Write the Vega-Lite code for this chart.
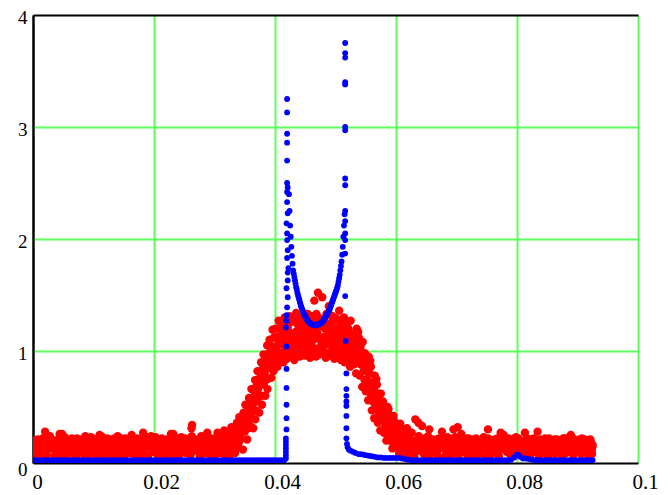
{
"$schema": "https://vega.github.io/schema/vega-lite/v6.json",
"width": 605, "height": 448,
"autosize": {"type": "none"},
"padding": {"left": 33, "top": 15, "right": 32, "bottom": 32},
"background": "#ffffff",
"config": {"font": "Liberation Serif, Times New Roman, serif", "view": {"stroke": null}, "axis": {"ticks": false, "domain": false, "labelFont": "Liberation Serif, Times New Roman, serif", "labelColor": "#000000", "title": null, "gridOpacity": 1}},
"resolve": {"axis": {"x": "independent", "y": "independent"}},
"datasets": {
"red": [
{"x":0,"y":0.08},{"x":0.0002,"y":0.20},{"x":0.0005,"y":0.13},{"x":0.0008,"y":0.06},
{"x":0.0011,"y":0.16},{"x":0.0013,"y":0.05},{"x":0.0016,"y":0.22},{"x":0.0019,"y":0.11},
{"x":0.0020,"y":0.10},{"x":0.0023,"y":0.07},{"x":0.0025,"y":0.17},{"x":0.0028,"y":0.24},
{"x":0.0031,"y":0.21},{"x":0.0034,"y":0.12},{"x":0.0036,"y":0.06},{"x":0.0039,"y":0.15},
{"x":0.0042,"y":0.09},{"x":0.0044,"y":0.26},{"x":0.0047,"y":0.14},{"x":0.0049,"y":0.05},
{"x":0.0050,"y":0.18},{"x":0.0053,"y":0.11},{"x":0.0056,"y":0.07},{"x":0.0058,"y":0.20},
{"x":0.0061,"y":0.13},{"x":0.0064,"y":0.22},{"x":0.0066,"y":0.09},{"x":0.0069,"y":0.06},
{"x":0.0071,"y":0.05},{"x":0.0073,"y":0.17},{"x":0.0076,"y":0.12},{"x":0.0078,"y":0.21},
{"x":0.0080,"y":0.15},{"x":0.0083,"y":0.08},{"x":0.0085,"y":0.19},{"x":0.0088,"y":0.11},
{"x":0.0091,"y":0.07},{"x":0.0093,"y":0.14},{"x":0.0096,"y":0.23},{"x":0.0099,"y":0.10},
{"x":0.0101,"y":0.20},{"x":0.0104,"y":0.06},{"x":0.0106,"y":0.12},{"x":0.0108,"y":0.16},
{"x":0.0110,"y":0.09},{"x":0.0113,"y":0.24},{"x":0.0115,"y":0.14},{"x":0.0118,"y":0.05},
{"x":0.0121,"y":0.17},{"x":0.0123,"y":0.10},{"x":0.0126,"y":0.06},{"x":0.0129,"y":0.21},
{"x":0.0130,"y":0.12},{"x":0.0133,"y":0.19},{"x":0.0135,"y":0.08},{"x":0.0138,"y":0.15},
{"x":0.0141,"y":0.05},{"x":0.0144,"y":0.13},{"x":0.0146,"y":0.22},{"x":0.0148,"y":0.10},
{"x":0.0150,"y":0.16},{"x":0.0152,"y":0.07},{"x":0.0155,"y":0.20},{"x":0.0158,"y":0.12},
{"x":0.0161,"y":0.09},{"x":0.0163,"y":0.25},{"x":0.0166,"y":0.14},{"x":0.0169,"y":0.06},
{"x":0.0170,"y":0.18},{"x":0.0173,"y":0.11},{"x":0.0175,"y":0.05},{"x":0.0178,"y":0.21},
{"x":0.0181,"y":0.13},{"x":0.0184,"y":0.08},{"x":0.0186,"y":0.17},{"x":0.0189,"y":0.23},
{"x":0.0190,"y":0.06},{"x":0.0192,"y":0.15},{"x":0.0195,"y":0.24},{"x":0.0198,"y":0.10},
{"x":0.0201,"y":0.19},{"x":0.0204,"y":0.12},{"x":0.0206,"y":0.07},{"x":0.0208,"y":0.16},
{"x":0.0210,"y":0.09},{"x":0.0213,"y":0.22},{"x":0.0216,"y":0.14},{"x":0.0219,"y":0.05},
{"x":0.0221,"y":0.17},{"x":0.0223,"y":0.11},{"x":0.0226,"y":0.06},{"x":0.0228,"y":0.26},
{"x":0.0231,"y":0.13},{"x":0.0234,"y":0.20},{"x":0.0236,"y":0.08},{"x":0.0239,"y":0.15},
{"x":0.0240,"y":0.05},{"x":0.0243,"y":0.16},{"x":0.0245,"y":0.23},{"x":0.0248,"y":0.11},
{"x":0.0251,"y":0.18},{"x":0.0253,"y":0.09},{"x":0.0256,"y":0.13},{"x":0.0259,"y":0.21},
{"x":0.0260,"y":0.07},{"x":0.0262,"y":0.31},{"x":0.0265,"y":0.15},{"x":0.0268,"y":0.11},
{"x":0.0271,"y":0.19},{"x":0.0273,"y":0.12},{"x":0.0276,"y":0.06},{"x":0.0278,"y":0.24},
{"x":0.0280,"y":0.14},{"x":0.0283,"y":0.09},{"x":0.0285,"y":0.20},{"x":0.0288,"y":0.27},
{"x":0.0291,"y":0.08},{"x":0.0293,"y":0.16},{"x":0.0296,"y":0.22},{"x":0.0298,"y":0.13},
{"x":0.0020,"y":0.28},{"x":0.0048,"y":0.26},{"x":0.0263,"y":0.34},{"x":0.0232,"y":0.26},{"x":0.0182,"y":0.27},{"x":0.0110,"y":0.25},{"x":0.0140,"y":0.24},
{"x":0.00045,"y":0.12},{"x":0.00095,"y":0.17},{"x":0.00145,"y":0.09},{"x":0.00195,"y":0.19},{"x":0.00245,"y":0.13},{"x":0.00295,"y":0.15},
{"x":0.00345,"y":0.18},{"x":0.00395,"y":0.09},{"x":0.00445,"y":0.11},{"x":0.00495,"y":0.16},{"x":0.00545,"y":0.14},{"x":0.00595,"y":0.10},
{"x":0.00645,"y":0.16},{"x":0.00695,"y":0.13},{"x":0.00745,"y":0.09},{"x":0.00795,"y":0.18},{"x":0.00845,"y":0.13},{"x":0.00895,"y":0.21},
{"x":0.00945,"y":0.17},{"x":0.00995,"y":0.12},{"x":0.01045,"y":0.11},{"x":0.01095,"y":0.19},{"x":0.01145,"y":0.18},{"x":0.01195,"y":0.10},
{"x":0.01245,"y":0.14},{"x":0.01295,"y":0.16},{"x":0.01345,"y":0.22},{"x":0.01395,"y":0.09},{"x":0.01445,"y":0.17},{"x":0.01495,"y":0.13},
{"x":0.01545,"y":0.10},{"x":0.01595,"y":0.18},{"x":0.01645,"y":0.19},{"x":0.01695,"y":0.11},{"x":0.01745,"y":0.14},{"x":0.01795,"y":0.16},
{"x":0.01845,"y":0.11},{"x":0.01895,"y":0.15},{"x":0.01945,"y":0.18},{"x":0.01995,"y":0.12},{"x":0.02045,"y":0.15},{"x":0.02095,"y":0.21},
{"x":0.02145,"y":0.10},{"x":0.02195,"y":0.17},{"x":0.02245,"y":0.19},{"x":0.02295,"y":0.13},{"x":0.02345,"y":0.12},{"x":0.02395,"y":0.18},
{"x":0.02445,"y":0.09},{"x":0.02495,"y":0.16},{"x":0.02545,"y":0.17},{"x":0.02595,"y":0.11},{"x":0.02645,"y":0.21},{"x":0.02695,"y":0.14},
{"x":0.02745,"y":0.16},{"x":0.02795,"y":0.10},{"x":0.02845,"y":0.12},{"x":0.02895,"y":0.18},{"x":0.02945,"y":0.18},{"x":0.02995,"y":0.11},
{"x":0.00025,"y":0.15},{"x":0.00075,"y":0.21},{"x":0.00125,"y":0.20},{"x":0.00175,"y":0.14},{"x":0.00215,"y":0.12},{"x":0.00265,"y":0.22},
{"x":0.00325,"y":0.16},{"x":0.00375,"y":0.20},{"x":0.00415,"y":0.21},{"x":0.00465,"y":0.19},{"x":0.00525,"y":0.23},{"x":0.00575,"y":0.15},
{"x":0.00625,"y":0.18},{"x":0.00675,"y":0.20},{"x":0.00725,"y":0.22},{"x":0.00775,"y":0.14},{"x":0.00815,"y":0.18},{"x":0.00865,"y":0.24},
{"x":0.00925,"y":0.19},{"x":0.00975,"y":0.16},{"x":0.01025,"y":0.15},{"x":0.01075,"y":0.22},{"x":0.01125,"y":0.20},{"x":0.01175,"y":0.17},
{"x":0.01225,"y":0.22},{"x":0.01275,"y":0.13},{"x":0.01315,"y":0.16},{"x":0.01365,"y":0.20},{"x":0.01425,"y":0.19},{"x":0.01475,"y":0.21},
{"x":0.01525,"y":0.22},{"x":0.01575,"y":0.15},{"x":0.01615,"y":0.17},{"x":0.01665,"y":0.20},{"x":0.01725,"y":0.22},{"x":0.01775,"y":0.15},
{"x":0.01825,"y":0.19},{"x":0.01875,"y":0.21},{"x":0.01915,"y":0.20},{"x":0.01965,"y":0.14},{"x":0.02025,"y":0.23},{"x":0.02075,"y":0.18},
{"x":0.02125,"y":0.16},{"x":0.02175,"y":0.20},{"x":0.02215,"y":0.21},{"x":0.02265,"y":0.18},{"x":0.02325,"y":0.17},{"x":0.02375,"y":0.22},
{"x":0.02425,"y":0.20},{"x":0.02475,"y":0.19},{"x":0.02515,"y":0.22},{"x":0.02565,"y":0.16},{"x":0.02625,"y":0.24},{"x":0.02675,"y":0.19},
{"x":0.02725,"y":0.21},{"x":0.02775,"y":0.17},{"x":0.02815,"y":0.18},{"x":0.02865,"y":0.23},{"x":0.02925,"y":0.21},{"x":0.02975,"y":0.19},
{"x":0.0301,"y":0.07},{"x":0.0303,"y":0.18},{"x":0.0305,"y":0.27},{"x":0.0307,"y":0.12},{"x":0.0309,"y":0.22},
{"x":0.0310,"y":0.09},{"x":0.0312,"y":0.20},{"x":0.0314,"y":0.15},{"x":0.0316,"y":0.29},{"x":0.0318,"y":0.06},{"x":0.0319,"y":0.24},
{"x":0.0321,"y":0.11},{"x":0.0322,"y":0.26},{"x":0.0324,"y":0.18},{"x":0.0326,"y":0.07},{"x":0.0328,"y":0.32},{"x":0.0329,"y":0.22},
{"x":0.0330,"y":0.14},{"x":0.0332,"y":0.30},{"x":0.0334,"y":0.09},{"x":0.0335,"y":0.22},{"x":0.0337,"y":0.36},{"x":0.0339,"y":0.27},
{"x":0.0340,"y":0.18},{"x":0.0341,"y":0.41},{"x":0.0343,"y":0.25},{"x":0.0345,"y":0.33},{"x":0.0347,"y":0.12},{"x":0.0348,"y":0.45},{"x":0.0349,"y":0.29},
{"x":0.0350,"y":0.28},{"x":0.0351,"y":0.52},{"x":0.0353,"y":0.36},{"x":0.0354,"y":0.21},{"x":0.0356,"y":0.44},{"x":0.0357,"y":0.58},{"x":0.0359,"y":0.33},
{"x":0.0360,"y":0.40},{"x":0.0361,"y":0.66},{"x":0.0363,"y":0.52},{"x":0.0364,"y":0.31},{"x":0.0366,"y":0.60},{"x":0.0367,"y":0.74},{"x":0.0369,"y":0.47},
{"x":0.0370,"y":0.55},{"x":0.0371,"y":0.82},{"x":0.0372,"y":0.66},{"x":0.0374,"y":0.45},{"x":0.0375,"y":0.76},{"x":0.0377,"y":0.90},{"x":0.0378,"y":0.60},{"x":0.0379,"y":0.71},
{"x":0.0380,"y":0.70},{"x":0.0381,"y":0.97},{"x":0.0383,"y":0.80},{"x":0.0384,"y":0.60},{"x":0.0385,"y":0.91},{"x":0.0387,"y":1.05},{"x":0.0388,"y":0.75},{"x":0.0389,"y":0.86},
{"x":0.0390,"y":0.85},{"x":0.0391,"y":1.10},{"x":0.0392,"y":0.95},{"x":0.0394,"y":0.76},{"x":0.0395,"y":1.04},{"x":0.0396,"y":1.19},{"x":0.0398,"y":0.90},{"x":0.0399,"y":1.00},
{"x":0.0400,"y":0.92},{"x":0.0401,"y":1.20},{"x":0.0402,"y":1.03},{"x":0.0404,"y":0.86},{"x":0.0405,"y":1.13},{"x":0.0406,"y":1.27},{"x":0.0408,"y":0.98},{"x":0.0409,"y":1.09},
{"x":0.0410,"y":0.96},{"x":0.0411,"y":1.24},{"x":0.0412,"y":1.06},{"x":0.0414,"y":0.90},{"x":0.0415,"y":1.17},{"x":0.0416,"y":1.30},{"x":0.0418,"y":1.01},{"x":0.0419,"y":1.12},
{"x":0.0420,"y":0.93},{"x":0.0421,"y":1.21},{"x":0.0422,"y":1.05},{"x":0.0424,"y":1.31},{"x":0.0425,"y":0.99},{"x":0.0426,"y":1.15},{"x":0.0428,"y":1.26},{"x":0.0429,"y":1.09},
{"x":0.0430,"y":1.02},{"x":0.0431,"y":1.28},{"x":0.0432,"y":0.92},{"x":0.0434,"y":1.17},{"x":0.0435,"y":1.34},{"x":0.0436,"y":1.08},{"x":0.0438,"y":0.97},{"x":0.0439,"y":1.22},
{"x":0.0440,"y":1.12},{"x":0.0441,"y":0.95},{"x":0.0442,"y":1.30},{"x":0.0444,"y":1.04},{"x":0.0445,"y":1.20},{"x":0.0446,"y":0.99},{"x":0.0448,"y":1.27},{"x":0.0449,"y":1.14},
{"x":0.0450,"y":0.96},{"x":0.0451,"y":1.24},{"x":0.0452,"y":1.10},{"x":0.0454,"y":1.33},{"x":0.0455,"y":1.01},{"x":0.0456,"y":1.18},{"x":0.0458,"y":0.94},{"x":0.0459,"y":1.28},
{"x":0.0460,"y":1.07},{"x":0.0461,"y":1.31},{"x":0.0462,"y":0.98},{"x":0.0464,"y":1.21},{"x":0.0465,"y":1.45},{"x":0.0466,"y":1.11},{"x":0.0468,"y":0.95},{"x":0.0469,"y":1.26},
{"x":0.0470,"y":1.16},{"x":0.0471,"y":1.52},{"x":0.0472,"y":1.02},{"x":0.0474,"y":1.29},{"x":0.0475,"y":0.97},{"x":0.0476,"y":1.22},{"x":0.0478,"y":1.48},{"x":0.0479,"y":1.09},
{"x":0.0480,"y":1.00},{"x":0.0481,"y":1.27},{"x":0.0482,"y":1.13},{"x":0.0484,"y":0.94},{"x":0.0485,"y":1.33},{"x":0.0486,"y":1.06},{"x":0.0488,"y":1.19},{"x":0.0489,"y":1.40},
{"x":0.0490,"y":1.10},{"x":0.0491,"y":0.96},{"x":0.0492,"y":1.25},{"x":0.0494,"y":1.04},{"x":0.0495,"y":1.31},{"x":0.0496,"y":1.15},{"x":0.0498,"y":0.93},{"x":0.0499,"y":1.21},
{"x":0.0500,"y":1.07},{"x":0.0501,"y":1.29},{"x":0.0502,"y":0.95},{"x":0.0504,"y":1.18},{"x":0.0505,"y":1.01},{"x":0.0506,"y":1.36},{"x":0.0508,"y":1.12},{"x":0.0509,"y":0.92},
{"x":0.0510,"y":1.22},{"x":0.0511,"y":0.97},{"x":0.0512,"y":1.08},{"x":0.0514,"y":1.30},{"x":0.0515,"y":0.90},{"x":0.0516,"y":1.16},{"x":0.0518,"y":1.02},{"x":0.0519,"y":1.25},
{"x":0.0520,"y":0.93},{"x":0.0521,"y":1.19},{"x":0.0522,"y":1.05},{"x":0.0524,"y":0.86},{"x":0.0525,"y":1.27},{"x":0.0526,"y":1.12},{"x":0.0528,"y":0.98},{"x":0.0529,"y":1.10},
{"x":0.0530,"y":0.88},{"x":0.0531,"y":1.14},{"x":0.0532,"y":0.99},{"x":0.0534,"y":0.80},{"x":0.0535,"y":1.20},{"x":0.0536,"y":1.05},{"x":0.0538,"y":0.91},{"x":0.0539,"y":1.00},
{"x":0.0540,"y":0.78},{"x":0.0541,"y":1.02},{"x":0.0542,"y":0.88},{"x":0.0544,"y":0.68},{"x":0.0545,"y":1.08},{"x":0.0546,"y":0.93},{"x":0.0548,"y":0.74},{"x":0.0549,"y":0.84},
{"x":0.0550,"y":0.64},{"x":0.0551,"y":0.90},{"x":0.0552,"y":0.75},{"x":0.0554,"y":0.56},{"x":0.0555,"y":0.95},{"x":0.0556,"y":0.80},{"x":0.0558,"y":0.62},{"x":0.0559,"y":0.70},
{"x":0.0560,"y":0.47},{"x":0.0561,"y":0.72},{"x":0.0562,"y":0.58},{"x":0.0564,"y":0.40},{"x":0.0565,"y":0.78},{"x":0.0566,"y":0.63},{"x":0.0568,"y":0.49},{"x":0.0569,"y":0.55},
{"x":0.0570,"y":0.36},{"x":0.0571,"y":0.58},{"x":0.0572,"y":0.45},{"x":0.0574,"y":0.29},{"x":0.0575,"y":0.62},{"x":0.0576,"y":0.50},{"x":0.0578,"y":0.38},{"x":0.0579,"y":0.43},
{"x":0.0580,"y":0.27},{"x":0.0581,"y":0.46},{"x":0.0583,"y":0.34},{"x":0.0584,"y":0.20},{"x":0.0586,"y":0.50},{"x":0.0587,"y":0.39},{"x":0.0589,"y":0.30},
{"x":0.0590,"y":0.20},{"x":0.0591,"y":0.38},{"x":0.0593,"y":0.26},{"x":0.0594,"y":0.13},{"x":0.0596,"y":0.42},{"x":0.0597,"y":0.31},{"x":0.0599,"y":0.22},
{"x":0.0600,"y":0.15},{"x":0.0602,"y":0.30},{"x":0.0604,"y":0.21},{"x":0.0605,"y":0.08},{"x":0.0607,"y":0.35},{"x":0.0609,"y":0.17},
{"x":0.0610,"y":0.11},{"x":0.0612,"y":0.26},{"x":0.0614,"y":0.19},{"x":0.0616,"y":0.06},{"x":0.0618,"y":0.31},{"x":0.0619,"y":0.14},
{"x":0.03045,"y":0.14},{"x":0.03085,"y":0.10},{"x":0.03025,"y":0.21},{"x":0.03135,"y":0.12},{"x":0.03175,"y":0.19},{"x":0.03115,"y":0.25},
{"x":0.03235,"y":0.14},{"x":0.03275,"y":0.24},{"x":0.03205,"y":0.18},{"x":0.03315,"y":0.19},{"x":0.03365,"y":0.26},{"x":0.03385,"y":0.14},
{"x":0.03425,"y":0.21},{"x":0.03465,"y":0.38},{"x":0.03495,"y":0.32},{"x":0.03525,"y":0.41},{"x":0.03555,"y":0.31},{"x":0.03585,"y":0.47},
{"x":0.03625,"y":0.45},{"x":0.03655,"y":0.56},{"x":0.03685,"y":0.68},{"x":0.03735,"y":0.59},{"x":0.03765,"y":0.70},{"x":0.03795,"y":0.84},
{"x":0.03825,"y":0.72},{"x":0.03855,"y":0.85},{"x":0.03895,"y":0.98},{"x":0.03925,"y":0.88},{"x":0.03955,"y":0.97},{"x":0.03985,"y":1.12},
{"x":0.04025,"y":0.97},{"x":0.04055,"y":1.06},{"x":0.04085,"y":1.20},{"x":0.04125,"y":0.99},{"x":0.04155,"y":1.09},{"x":0.04185,"y":1.24},
{"x":0.04225,"y":0.97},{"x":0.04265,"y":1.12},{"x":0.04285,"y":1.02},{"x":0.04325,"y":1.10},{"x":0.04365,"y":1.25},{"x":0.04385,"y":1.01},
{"x":0.04425,"y":1.17},{"x":0.04465,"y":1.08},{"x":0.04485,"y":0.97},{"x":0.04525,"y":1.05},{"x":0.04565,"y":1.21},{"x":0.04585,"y":1.14},
{"x":0.04625,"y":1.17},{"x":0.04665,"y":1.02},{"x":0.04685,"y":1.33},{"x":0.04725,"y":1.11},{"x":0.04765,"y":1.05},{"x":0.04785,"y":1.25},
{"x":0.04825,"y":1.20},{"x":0.04865,"y":1.10},{"x":0.04885,"y":0.98},{"x":0.04925,"y":1.17},{"x":0.04965,"y":1.02},{"x":0.04985,"y":1.28},
{"x":0.05025,"y":1.14},{"x":0.05065,"y":1.02},{"x":0.05085,"y":1.25},{"x":0.05125,"y":0.95},{"x":0.05165,"y":1.10},{"x":0.05185,"y":1.18},
{"x":0.05225,"y":0.97},{"x":0.05265,"y":1.15},{"x":0.05285,"y":1.04},{"x":0.05325,"y":1.08},{"x":0.05365,"y":0.93},{"x":0.05385,"y":1.12},
{"x":0.05425,"y":0.95},{"x":0.05465,"y":0.82},{"x":0.05485,"y":0.98},{"x":0.05525,"y":0.83},{"x":0.05565,"y":0.70},{"x":0.05585,"y":0.86},
{"x":0.05625,"y":0.66},{"x":0.05655,"y":0.52},{"x":0.05685,"y":0.70},{"x":0.05725,"y":0.52},{"x":0.05765,"y":0.40},{"x":0.05785,"y":0.55},
{"x":0.05825,"y":0.41},{"x":0.05855,"y":0.25},{"x":0.05885,"y":0.43},{"x":0.05925,"y":0.33},{"x":0.05955,"y":0.18},{"x":0.05985,"y":0.36},
{"x":0.06025,"y":0.25},{"x":0.06065,"y":0.12},{"x":0.06085,"y":0.28},{"x":0.06125,"y":0.22},{"x":0.06155,"y":0.09},{"x":0.06185,"y":0.20},
{"x":0.03035,"y":0.16},{"x":0.03075,"y":0.24},{"x":0.03125,"y":0.17},{"x":0.03165,"y":0.27},{"x":0.03215,"y":0.23},{"x":0.03265,"y":0.13},
{"x":0.03345,"y":0.20},{"x":0.03375,"y":0.31},{"x":0.03415,"y":0.28},{"x":0.03455,"y":0.36},{"x":0.03515,"y":0.35},{"x":0.03575,"y":0.52},
{"x":0.03615,"y":0.58},{"x":0.03675,"y":0.39},{"x":0.03725,"y":0.73},{"x":0.03785,"y":0.52},{"x":0.03815,"y":0.88},{"x":0.03875,"y":0.66},
{"x":0.03915,"y":1.05},{"x":0.03975,"y":0.82},{"x":0.04015,"y":1.12},{"x":0.04075,"y":0.90},{"x":0.04115,"y":1.15},{"x":0.04175,"y":0.94},
{"x":0.04215,"y":1.18},{"x":0.04275,"y":0.96},{"x":0.04315,"y":0.99},{"x":0.04355,"y":1.16},{"x":0.04415,"y":1.24},{"x":0.04475,"y":1.06},
{"x":0.04515,"y":1.15},{"x":0.04575,"y":0.99},{"x":0.04615,"y":0.97},{"x":0.04675,"y":1.19},{"x":0.04715,"y":1.24},{"x":0.04775,"y":1.00},
{"x":0.04815,"y":1.08},{"x":0.04875,"y":1.24},{"x":0.04915,"y":1.32},{"x":0.04975,"y":1.08},{"x":0.05015,"y":0.98},{"x":0.05075,"y":1.19},
{"x":0.05115,"y":1.26},{"x":0.05175,"y":1.04},{"x":0.05215,"y":1.20},{"x":0.05275,"y":0.92},{"x":0.05315,"y":0.94},{"x":0.05375,"y":1.17},
{"x":0.05415,"y":1.05},{"x":0.05475,"y":0.88},{"x":0.05515,"y":0.70},{"x":0.05575,"y":0.91},{"x":0.05615,"y":0.55},{"x":0.05675,"y":0.75},
{"x":0.05715,"y":0.62},{"x":0.05775,"y":0.46},{"x":0.05815,"y":0.31},{"x":0.05875,"y":0.48},{"x":0.05915,"y":0.25},{"x":0.05975,"y":0.37},
{"x":0.06015,"y":0.19},{"x":0.06075,"y":0.31},{"x":0.06115,"y":0.15},{"x":0.06175,"y":0.25},
{"x":0.0621,"y":0.18},{"x":0.0623,"y":0.09},{"x":0.0626,"y":0.27},{"x":0.0628,"y":0.13},
{"x":0.0630,"y":0.06},{"x":0.0632,"y":0.39},{"x":0.0635,"y":0.16},{"x":0.0638,"y":0.22},
{"x":0.0641,"y":0.11},{"x":0.0643,"y":0.33},{"x":0.0646,"y":0.08},{"x":0.0648,"y":0.19},
{"x":0.0650,"y":0.14},{"x":0.0653,"y":0.24},{"x":0.0655,"y":0.06},{"x":0.0658,"y":0.17},
{"x":0.0661,"y":0.21},{"x":0.0663,"y":0.10},{"x":0.0666,"y":0.15},{"x":0.0668,"y":0.07},
{"x":0.0670,"y":0.12},{"x":0.0673,"y":0.19},{"x":0.0676,"y":0.28},{"x":0.0678,"y":0.05},
{"x":0.0681,"y":0.16},{"x":0.0683,"y":0.09},{"x":0.0685,"y":0.23},{"x":0.0688,"y":0.13},
{"x":0.0690,"y":0.07},{"x":0.0693,"y":0.21},{"x":0.0695,"y":0.30},{"x":0.0698,"y":0.11},
{"x":0.0701,"y":0.15},{"x":0.0703,"y":0.06},{"x":0.0706,"y":0.19},{"x":0.0708,"y":0.26},
{"x":0.0711,"y":0.10},{"x":0.0713,"y":0.17},{"x":0.0716,"y":0.13},{"x":0.0718,"y":0.05},
{"x":0.0720,"y":0.22},{"x":0.0723,"y":0.08},{"x":0.0725,"y":0.14},{"x":0.0728,"y":0.18},
{"x":0.0731,"y":0.12},{"x":0.0733,"y":0.06},{"x":0.0736,"y":0.20},{"x":0.0738,"y":0.16},
{"x":0.0740,"y":0.09},{"x":0.0743,"y":0.15},{"x":0.0745,"y":0.23},{"x":0.0748,"y":0.05},
{"x":0.0751,"y":0.18},{"x":0.0753,"y":0.11},{"x":0.0756,"y":0.07},{"x":0.0758,"y":0.20},
{"x":0.0761,"y":0.14},{"x":0.0763,"y":0.21},{"x":0.0766,"y":0.09},{"x":0.0768,"y":0.16},
{"x":0.0770,"y":0.06},{"x":0.0773,"y":0.13},{"x":0.0775,"y":0.19},{"x":0.0778,"y":0.25},
{"x":0.0781,"y":0.17},{"x":0.0783,"y":0.10},{"x":0.0786,"y":0.22},{"x":0.0788,"y":0.08},
{"x":0.0790,"y":0.12},{"x":0.0793,"y":0.18},{"x":0.0795,"y":0.06},{"x":0.0798,"y":0.23},
{"x":0.0801,"y":0.15},{"x":0.0803,"y":0.09},{"x":0.0806,"y":0.20},{"x":0.0808,"y":0.13},
{"x":0.0811,"y":0.07},{"x":0.0813,"y":0.27},{"x":0.0815,"y":0.16},{"x":0.0818,"y":0.11},
{"x":0.0820,"y":0.19},{"x":0.0823,"y":0.08},{"x":0.0825,"y":0.14},{"x":0.0828,"y":0.22},
{"x":0.0831,"y":0.10},{"x":0.0833,"y":0.17},{"x":0.0836,"y":0.05},{"x":0.0838,"y":0.21},
{"x":0.0840,"y":0.13},{"x":0.0843,"y":0.20},{"x":0.0845,"y":0.09},{"x":0.0848,"y":0.16},
{"x":0.0851,"y":0.06},{"x":0.0853,"y":0.22},{"x":0.0856,"y":0.12},{"x":0.0858,"y":0.18},
{"x":0.0861,"y":0.15},{"x":0.0863,"y":0.08},{"x":0.0866,"y":0.21},{"x":0.0868,"y":0.11},
{"x":0.0870,"y":0.18},{"x":0.0873,"y":0.13},{"x":0.0875,"y":0.06},{"x":0.0878,"y":0.22},
{"x":0.0881,"y":0.09},{"x":0.0883,"y":0.16},{"x":0.0886,"y":0.23},{"x":0.0888,"y":0.12},
{"x":0.0890,"y":0.20},{"x":0.0893,"y":0.07},{"x":0.0895,"y":0.14},{"x":0.0898,"y":0.19},
{"x":0.0901,"y":0.11},{"x":0.0903,"y":0.21},{"x":0.0906,"y":0.08},{"x":0.0908,"y":0.15},
{"x":0.0910,"y":0.17},{"x":0.0913,"y":0.10},{"x":0.0915,"y":0.19},{"x":0.0918,"y":0.06},
{"x":0.0920,"y":0.13},{"x":0.0922,"y":0.18},{"x":0.0924,"y":0.08},{"x":0.0925,"y":0.16},
{"x":0.0702,"y":0.32},{"x":0.0752,"y":0.30},{"x":0.0834,"y":0.28},{"x":0.0773,"y":0.27},{"x":0.0889,"y":0.25},{"x":0.0655,"y":0.30},{"x":0.0637,"y":0.36},
{"x":0.06245,"y":0.15},{"x":0.06295,"y":0.20},{"x":0.06345,"y":0.11},{"x":0.06395,"y":0.14},{"x":0.06445,"y":0.21},{"x":0.06495,"y":0.13},
{"x":0.06545,"y":0.10},{"x":0.06595,"y":0.19},{"x":0.06645,"y":0.17},{"x":0.06695,"y":0.12},{"x":0.06745,"y":0.14},{"x":0.06795,"y":0.22},
{"x":0.06845,"y":0.11},{"x":0.06895,"y":0.18},{"x":0.06945,"y":0.16},{"x":0.06995,"y":0.09},{"x":0.07045,"y":0.12},{"x":0.07095,"y":0.17},
{"x":0.07145,"y":0.20},{"x":0.07195,"y":0.14},{"x":0.07245,"y":0.11},{"x":0.07295,"y":0.15},{"x":0.07345,"y":0.17},{"x":0.07395,"y":0.10},
{"x":0.07445,"y":0.13},{"x":0.07495,"y":0.19},{"x":0.07545,"y":0.15},{"x":0.07595,"y":0.12},{"x":0.07645,"y":0.18},{"x":0.07695,"y":0.10},
{"x":0.07745,"y":0.15},{"x":0.07795,"y":0.12},{"x":0.07845,"y":0.13},{"x":0.07895,"y":0.19},{"x":0.07945,"y":0.16},{"x":0.07995,"y":0.10},
{"x":0.08045,"y":0.11},{"x":0.08095,"y":0.17},{"x":0.08145,"y":0.19},{"x":0.08195,"y":0.13},{"x":0.08245,"y":0.10},{"x":0.08295,"y":0.16},
{"x":0.08345,"y":0.14},{"x":0.08395,"y":0.12},{"x":0.08445,"y":0.17},{"x":0.08495,"y":0.10},{"x":0.08545,"y":0.15},{"x":0.08595,"y":0.11},
{"x":0.08645,"y":0.12},{"x":0.08695,"y":0.18},{"x":0.08745,"y":0.16},{"x":0.08795,"y":0.09},{"x":0.08845,"y":0.19},{"x":0.08895,"y":0.14},
{"x":0.08945,"y":0.11},{"x":0.08995,"y":0.16},{"x":0.09045,"y":0.14},{"x":0.09095,"y":0.18},{"x":0.09145,"y":0.13},{"x":0.09195,"y":0.15},
{"x":0.09235,"y":0.11},{"x":0.0921,"y":0.21},
{"x":0.06225,"y":0.21},{"x":0.06275,"y":0.16},{"x":0.06325,"y":0.19},{"x":0.06375,"y":0.24},{"x":0.06415,"y":0.16},{"x":0.06465,"y":0.22},
{"x":0.06525,"y":0.20},{"x":0.06575,"y":0.15},{"x":0.06625,"y":0.18},{"x":0.06675,"y":0.21},{"x":0.06715,"y":0.22},{"x":0.06765,"y":0.16},
{"x":0.06825,"y":0.20},{"x":0.06875,"y":0.19},{"x":0.06925,"y":0.15},{"x":0.06975,"y":0.23},{"x":0.07025,"y":0.21},{"x":0.07075,"y":0.19},
{"x":0.07115,"y":0.16},{"x":0.07165,"y":0.22},{"x":0.07225,"y":0.19},{"x":0.07275,"y":0.21},{"x":0.07325,"y":0.22},{"x":0.07375,"y":0.18},
{"x":0.07415,"y":0.19},{"x":0.07465,"y":0.17},{"x":0.07525,"y":0.22},{"x":0.07575,"y":0.16},{"x":0.07625,"y":0.20},{"x":0.07675,"y":0.22},
{"x":0.07715,"y":0.18},{"x":0.07765,"y":0.21},{"x":0.07825,"y":0.20},{"x":0.07875,"y":0.15},{"x":0.07925,"y":0.21},{"x":0.07975,"y":0.19},
{"x":0.08025,"y":0.22},{"x":0.08075,"y":0.18},{"x":0.08115,"y":0.15},{"x":0.08165,"y":0.22},{"x":0.08225,"y":0.21},{"x":0.08275,"y":0.18},
{"x":0.08325,"y":0.20},{"x":0.08375,"y":0.16},{"x":0.08415,"y":0.19},{"x":0.08465,"y":0.22},{"x":0.08525,"y":0.18},{"x":0.08575,"y":0.20},
{"x":0.08625,"y":0.21},{"x":0.08675,"y":0.16},{"x":0.08715,"y":0.20},{"x":0.08765,"y":0.22},{"x":0.08825,"y":0.18},{"x":0.08875,"y":0.20},
{"x":0.08925,"y":0.22},{"x":0.08975,"y":0.17},{"x":0.09025,"y":0.19},{"x":0.09075,"y":0.22},{"x":0.09115,"y":0.21},{"x":0.09165,"y":0.18},
{"x":0.09215,"y":0.20},{"x":0.09245,"y":0.14}
],
"blue": [
{"x":0,"y":0.025},{"x":0.0005,"y":0.025},{"x":0.001,"y":0.025},{"x":0.0015,"y":0.025},{"x":0.002,"y":0.025},{"x":0.0025,"y":0.025},{"x":0.003,"y":0.025},{"x":0.0035,"y":0.025},
{"x":0.004,"y":0.025},{"x":0.0045,"y":0.025},{"x":0.005,"y":0.025},{"x":0.0055,"y":0.025},{"x":0.006,"y":0.025},{"x":0.0065,"y":0.025},{"x":0.007,"y":0.025},{"x":0.0075,"y":0.025},
{"x":0.008,"y":0.025},{"x":0.0085,"y":0.025},{"x":0.009,"y":0.025},{"x":0.0095,"y":0.025},{"x":0.010,"y":0.025},{"x":0.0105,"y":0.025},{"x":0.011,"y":0.025},{"x":0.0115,"y":0.025},
{"x":0.012,"y":0.025},{"x":0.0125,"y":0.025},{"x":0.013,"y":0.025},{"x":0.0135,"y":0.025},{"x":0.014,"y":0.025},{"x":0.0145,"y":0.025},{"x":0.015,"y":0.025},{"x":0.0155,"y":0.025},
{"x":0.016,"y":0.025},{"x":0.0165,"y":0.025},{"x":0.017,"y":0.025},{"x":0.0175,"y":0.025},{"x":0.018,"y":0.025},{"x":0.0185,"y":0.025},{"x":0.019,"y":0.025},{"x":0.0195,"y":0.025},
{"x":0.020,"y":0.025},{"x":0.0205,"y":0.025},{"x":0.021,"y":0.025},{"x":0.0215,"y":0.025},{"x":0.022,"y":0.025},{"x":0.0225,"y":0.025},{"x":0.023,"y":0.025},{"x":0.0235,"y":0.025},
{"x":0.024,"y":0.025},{"x":0.0245,"y":0.025},{"x":0.025,"y":0.025},{"x":0.0255,"y":0.025},{"x":0.026,"y":0.025},{"x":0.0265,"y":0.025},{"x":0.027,"y":0.025},{"x":0.0275,"y":0.025},
{"x":0.028,"y":0.025},{"x":0.0285,"y":0.025},{"x":0.029,"y":0.025},{"x":0.0295,"y":0.025},{"x":0.030,"y":0.025},{"x":0.0305,"y":0.025},{"x":0.031,"y":0.025},{"x":0.0315,"y":0.025},
{"x":0.032,"y":0.025},{"x":0.0325,"y":0.025},{"x":0.033,"y":0.025},{"x":0.0335,"y":0.025},{"x":0.034,"y":0.025},{"x":0.0345,"y":0.025},{"x":0.035,"y":0.025},{"x":0.0355,"y":0.025},
{"x":0.036,"y":0.025},{"x":0.0365,"y":0.025},{"x":0.037,"y":0.025},{"x":0.0375,"y":0.025},{"x":0.038,"y":0.025},{"x":0.0385,"y":0.025},{"x":0.039,"y":0.025},{"x":0.0395,"y":0.025},
{"x":0.040,"y":0.025},{"x":0.0405,"y":0.025},{"x":0.041,"y":0.025},{"x":0.0415,"y":0.025},
{"x":0.0418,"y":0.04},{"x":0.0418,"y":0.07},{"x":0.0418,"y":0.10},{"x":0.0418,"y":0.13},{"x":0.0418,"y":0.16},{"x":0.0418,"y":0.19},
{"x":0.0418,"y":0.22},{"x":0.0419,"y":0.30},{"x":0.0419,"y":0.40},{"x":0.0419,"y":0.52},{"x":0.0419,"y":0.67},{"x":0.0419,"y":0.84},{"x":0.0419,"y":1.04},
{"x":0.0418,"y":1.21},{"x":0.0419,"y":1.27},{"x":0.0419,"y":1.32},{"x":0.0420,"y":1.39},{"x":0.0421,"y":1.48},{"x":0.0419,"y":1.56},{"x":0.0421,"y":1.63},
{"x":0.0421,"y":1.70},{"x":0.0422,"y":1.74},{"x":0.0420,"y":1.83},{"x":0.0421,"y":1.90},{"x":0.0420,"y":1.99},{"x":0.0420,"y":2.05},{"x":0.0419,"y":2.14},
{"x":0.0421,"y":2.23},{"x":0.0420,"y":2.33},{"x":0.0420,"y":2.42},{"x":0.0421,"y":2.46},{"x":0.0420,"y":2.50},{"x":0.0420,"y":2.70},{"x":0.0420,"y":2.86},
{"x":0.0420,"y":2.94},{"x":0.0420,"y":3.13},{"x":0.0420,"y":3.25},
{"x":0.0423,"y":2.40},{"x":0.0424,"y":2.25},{"x":0.0425,"y":2.12},{"x":0.0426,"y":2.02},{"x":0.0427,"y":1.93},{"x":0.0428,"y":1.85},{"x":0.0429,"y":1.78},
{"x":0.0430,"y":1.72},{"x":0.0431,"y":1.69},{"x":0.0432,"y":1.66},{"x":0.0433,"y":1.63},{"x":0.0434,"y":1.60},{"x":0.0435,"y":1.57},{"x":0.0436,"y":1.55},{"x":0.0437,"y":1.52},
{"x":0.0438,"y":1.50},{"x":0.0439,"y":1.48},{"x":0.0440,"y":1.46},{"x":0.0441,"y":1.44},{"x":0.0442,"y":1.42},{"x":0.0443,"y":1.40},{"x":0.0444,"y":1.39},{"x":0.0445,"y":1.37},
{"x":0.0446,"y":1.36},{"x":0.0447,"y":1.34},{"x":0.0448,"y":1.33},{"x":0.0449,"y":1.32},{"x":0.0450,"y":1.31},{"x":0.0451,"y":1.30},{"x":0.0452,"y":1.29},{"x":0.0453,"y":1.28},
{"x":0.0454,"y":1.27},{"x":0.0455,"y":1.265},{"x":0.0456,"y":1.26},{"x":0.0457,"y":1.255},{"x":0.0458,"y":1.25},{"x":0.0459,"y":1.245},{"x":0.0460,"y":1.24},{"x":0.0461,"y":1.238},
{"x":0.0462,"y":1.235},{"x":0.0463,"y":1.232},{"x":0.0464,"y":1.23},{"x":0.0465,"y":1.23},{"x":0.0466,"y":1.23},{"x":0.0467,"y":1.23},{"x":0.0468,"y":1.23},{"x":0.0469,"y":1.232},
{"x":0.0470,"y":1.235},{"x":0.0471,"y":1.237},{"x":0.0472,"y":1.24},{"x":0.0473,"y":1.242},{"x":0.0474,"y":1.245},{"x":0.0475,"y":1.247},{"x":0.0476,"y":1.25},{"x":0.0477,"y":1.255},
{"x":0.0478,"y":1.26},{"x":0.0479,"y":1.265},{"x":0.0480,"y":1.27},{"x":0.0481,"y":1.28},{"x":0.0482,"y":1.29},{"x":0.0483,"y":1.30},{"x":0.0484,"y":1.31},{"x":0.0485,"y":1.32},
{"x":0.0486,"y":1.33},{"x":0.0487,"y":1.34},{"x":0.0488,"y":1.35},{"x":0.0489,"y":1.36},{"x":0.0490,"y":1.37},{"x":0.0491,"y":1.385},{"x":0.0492,"y":1.40},{"x":0.0493,"y":1.415},
{"x":0.0494,"y":1.43},{"x":0.0495,"y":1.445},{"x":0.0496,"y":1.46},{"x":0.0497,"y":1.475},{"x":0.0498,"y":1.49},{"x":0.0499,"y":1.505},{"x":0.0500,"y":1.52},{"x":0.0501,"y":1.535},
{"x":0.0502,"y":1.55},{"x":0.0503,"y":1.57},{"x":0.0504,"y":1.59},{"x":0.0505,"y":1.62},{"x":0.0506,"y":1.65},{"x":0.0507,"y":1.68},{"x":0.0508,"y":1.72},{"x":0.0509,"y":1.76},
{"x":0.0510,"y":1.80},{"x":0.0511,"y":1.86},{"x":0.0512,"y":1.93},{"x":0.0513,"y":2.02},{"x":0.0514,"y":2.12},{"x":0.0515,"y":2.22},
{"x":0.0516,"y":3.75},{"x":0.0516,"y":3.66},{"x":0.0516,"y":3.62},{"x":0.0516,"y":3.40},{"x":0.0516,"y":3.38},{"x":0.0516,"y":3.00},{"x":0.0516,"y":2.97},{"x":0.0516,"y":2.54},
{"x":0.0516,"y":2.48},{"x":0.0516,"y":2.25},{"x":0.0516,"y":2.16},{"x":0.0516,"y":2.05},{"x":0.0516,"y":1.99},{"x":0.0516,"y":1.87},{"x":0.0516,"y":1.49},{"x":0.0517,"y":1.09},
{"x":0.0518,"y":0.80},{"x":0.0518,"y":0.66},{"x":0.0518,"y":0.60},{"x":0.0518,"y":0.55},{"x":0.0518,"y":0.51},{"x":0.0518,"y":0.42},{"x":0.0518,"y":0.31},{"x":0.0518,"y":0.22},
{"x":0.0519,"y":0.17},{"x":0.0520,"y":0.14},{"x":0.0522,"y":0.12},{"x":0.0525,"y":0.11},{"x":0.0529,"y":0.10},{"x":0.0533,"y":0.09},{"x":0.0538,"y":0.08},{"x":0.0542,"y":0.078},
{"x":0.0546,"y":0.075},{"x":0.0550,"y":0.07},{"x":0.0555,"y":0.065},{"x":0.0560,"y":0.06},{"x":0.0565,"y":0.055},{"x":0.0570,"y":0.05},{"x":0.0575,"y":0.05},{"x":0.0580,"y":0.045},
{"x":0.0585,"y":0.045},{"x":0.0590,"y":0.045},{"x":0.0595,"y":0.045},{"x":0.0600,"y":0.045},{"x":0.0605,"y":0.045},{"x":0.0610,"y":0.04},{"x":0.0615,"y":0.035},{"x":0.0620,"y":0.03},
{"x":0.0625,"y":0.025},{"x":0.063,"y":0.025},{"x":0.0635,"y":0.025},{"x":0.064,"y":0.025},{"x":0.0645,"y":0.025},{"x":0.065,"y":0.025},{"x":0.0655,"y":0.025},{"x":0.066,"y":0.025},
{"x":0.0665,"y":0.025},{"x":0.067,"y":0.025},{"x":0.0675,"y":0.025},{"x":0.068,"y":0.025},{"x":0.0685,"y":0.025},{"x":0.069,"y":0.025},{"x":0.0695,"y":0.025},{"x":0.070,"y":0.025},
{"x":0.0705,"y":0.025},{"x":0.071,"y":0.025},{"x":0.0715,"y":0.025},{"x":0.072,"y":0.025},{"x":0.0725,"y":0.025},{"x":0.073,"y":0.025},{"x":0.0735,"y":0.025},{"x":0.074,"y":0.025},
{"x":0.0745,"y":0.025},{"x":0.075,"y":0.025},{"x":0.0755,"y":0.025},{"x":0.076,"y":0.025},{"x":0.0765,"y":0.025},{"x":0.077,"y":0.025},{"x":0.0775,"y":0.025},{"x":0.078,"y":0.025},
{"x":0.0785,"y":0.025},{"x":0.079,"y":0.03},{"x":0.0795,"y":0.05},{"x":0.0800,"y":0.075},{"x":0.0803,"y":0.07},{"x":0.0805,"y":0.055},{"x":0.081,"y":0.04},{"x":0.0815,"y":0.04},
{"x":0.082,"y":0.035},{"x":0.0825,"y":0.03},{"x":0.083,"y":0.025},{"x":0.0835,"y":0.025},{"x":0.084,"y":0.025},{"x":0.0845,"y":0.025},{"x":0.085,"y":0.025},{"x":0.0855,"y":0.025},
{"x":0.086,"y":0.025},{"x":0.0865,"y":0.025},{"x":0.087,"y":0.025},{"x":0.0875,"y":0.025},{"x":0.088,"y":0.025},{"x":0.0885,"y":0.025},{"x":0.089,"y":0.025},{"x":0.0895,"y":0.025},
{"x":0.090,"y":0.025},{"x":0.0905,"y":0.025},{"x":0.091,"y":0.025},{"x":0.0915,"y":0.025},{"x":0.092,"y":0.025},{"x":0.0925,"y":0.025}
]
},
"layer": [
{"data": {"name": "red"}, "mark": {"type": "circle", "size": 70, "color": "#ff0000", "opacity": 1, "clip": true},
 "encoding": {
  "x": {"field": "x", "type": "quantitative", "scale": {"domain": [0, 0.1], "nice": false, "zero": false},
   "axis": {"orient": "bottom", "values": [0, 0.02, 0.04, 0.06, 0.08, 0.1], "format": "~g", "labelFont": "Liberation Serif, Times New Roman, serif", "labelFontSize": 21, "labelPadding": 8, "labelFlush": false,
    "domain": true, "domainColor": "#000000", "domainWidth": 2,
    "labelOffset": {"condition": {"test": "datum.value === 0", "value": 4}, "value": 7},
    "grid": true,
    "gridColor": {"condition": {"test": "datum.value === 0", "value": "#000000"}, "value": "#5cff5c"},
    "gridWidth": 2}},
  "y": {"field": "y", "type": "quantitative", "scale": {"domain": [0, 4], "nice": false, "zero": false},
   "axis": {"orient": "left", "values": [0, 1, 2, 3, 4], "format": "~g", "labelFont": "Liberation Serif, Times New Roman, serif", "labelFontSize": 19, "labelPadding": 6, "labelFlush": false, "labelBaseline": "middle",
    "labelOffset": {"condition": {"test": "datum.value === 0", "value": 6}, "value": 2},
    "grid": false, "domain": true, "domainColor": "#000000", "domainWidth": 2}}
 }},
{"data": {"name": "blue"}, "mark": {"type": "circle", "size": 34, "color": "#0000ff", "opacity": 1, "clip": true},
 "encoding": {
  "x": {"field": "x", "type": "quantitative", "scale": {"domain": [0, 0.1], "nice": false, "zero": false},
   "axis": {"orient": "top", "labels": false, "grid": false, "domain": true, "domainColor": "#000000", "domainWidth": 2, "values": [0.05]}},
  "y": {"field": "y", "type": "quantitative", "scale": {"domain": [0, 4], "nice": false, "zero": false},
   "axis": {"orient": "right", "labels": false, "domain": false, "grid": true, "gridColor": "#5cff5c", "gridWidth": 2, "values": [1, 2, 3]}}
 }}
]
}
